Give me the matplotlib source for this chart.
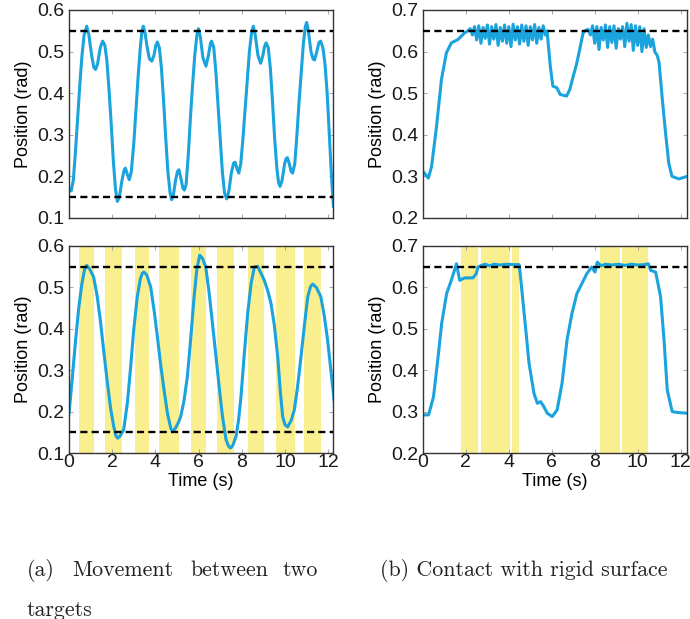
import matplotlib
matplotlib.use("Agg")
import matplotlib.pyplot as plt
import numpy as np

plt.rcParams["font.family"] = ["Liberation Sans", "DejaVu Sans"]

LINE = "#1aa3dd"
BAND = "#f9ef8e"

# (a) top: free movement between two targets
ta_top = [0.0, 0.1, 0.2, 0.3, 0.4, 0.5, 0.6, 0.7, 0.82, 0.92, 1.05, 1.15, 1.23, 1.32, 1.45, 1.56,
          1.66, 1.75, 1.85, 1.95, 2.05, 2.15, 2.24, 2.33, 2.45, 2.55, 2.61, 2.7, 2.79, 2.88, 3.0,
          3.1, 3.2, 3.3, 3.38, 3.44, 3.52, 3.62, 3.72, 3.83, 3.93, 4.02, 4.09, 4.18, 4.28, 4.38,
          4.48, 4.58, 4.68, 4.75, 4.83, 4.93, 5.02, 5.09, 5.18, 5.27, 5.34, 5.42, 5.52, 5.62, 5.72,
          5.82, 5.92, 5.99, 6.08, 6.2, 6.34, 6.45, 6.55, 6.6, 6.7, 6.8, 6.9, 7.0, 7.1, 7.2, 7.3,
          7.4, 7.52, 7.62, 7.69, 7.78, 7.86, 7.95, 8.05, 8.15, 8.25, 8.35, 8.45, 8.53, 8.62, 8.75,
          8.87, 8.97, 9.05, 9.12, 9.22, 9.32, 9.42, 9.52, 9.62, 9.7, 9.77, 9.86, 9.98, 10.05, 10.11,
          10.2, 10.28, 10.35, 10.45, 10.55, 10.65, 10.75, 10.85, 10.94, 11.0, 11.08, 11.2, 11.3,
          11.37, 11.47, 11.57, 11.65, 11.75, 11.85, 11.95, 12.05, 12.15, 12.24]
pa_top = [0.172, 0.165, 0.19, 0.26, 0.34, 0.42, 0.49, 0.54, 0.561, 0.54, 0.49, 0.462, 0.457, 0.47,
          0.51, 0.525, 0.515, 0.48, 0.41, 0.33, 0.24, 0.17, 0.14, 0.15, 0.19, 0.215, 0.22, 0.205,
          0.192, 0.21, 0.28, 0.36, 0.44, 0.51, 0.55, 0.561, 0.545, 0.51, 0.483, 0.477, 0.49, 0.515,
          0.523, 0.51, 0.46, 0.38, 0.29, 0.21, 0.16, 0.144, 0.155, 0.19, 0.212, 0.216, 0.195, 0.172,
          0.167, 0.18, 0.25, 0.34, 0.42, 0.49, 0.54, 0.555, 0.535, 0.485, 0.465, 0.49, 0.52, 0.525,
          0.51, 0.45, 0.37, 0.29, 0.21, 0.16, 0.146, 0.165, 0.21, 0.232, 0.234, 0.218, 0.208, 0.23,
          0.29, 0.36, 0.43, 0.5, 0.545, 0.561, 0.54, 0.49, 0.472, 0.49, 0.512, 0.521, 0.51, 0.46,
          0.38, 0.29, 0.22, 0.185, 0.176, 0.19, 0.23, 0.243, 0.245, 0.23, 0.212, 0.208, 0.23, 0.3,
          0.38, 0.45, 0.52, 0.56, 0.57, 0.55, 0.5, 0.482, 0.48, 0.5, 0.522, 0.525, 0.51, 0.47, 0.4,
          0.3, 0.2, 0.128]

# (a) bottom: assisted movement, yellow = active intervals
ta_bot = [0.0, 0.15, 0.3, 0.45, 0.6, 0.72, 0.82, 0.95, 1.14, 1.3, 1.45, 1.6, 1.76, 1.92, 2.07, 2.17,
          2.25, 2.35, 2.53, 2.7, 2.84, 3.0, 3.16, 3.3, 3.4, 3.47, 3.6, 3.78, 3.95, 4.09, 4.25, 4.4,
          4.56, 4.71, 4.78, 4.9, 5.05, 5.17, 5.32, 5.48, 5.64, 5.79, 5.92, 6.05, 6.18, 6.33, 6.48,
          6.64, 6.8, 6.95, 7.1, 7.27, 7.38, 7.47, 7.58, 7.73, 7.85, 7.96, 8.1, 8.27, 8.43, 8.58,
          8.73, 8.88, 9.04, 9.2, 9.35, 9.5, 9.66, 9.78, 9.89, 10.0, 10.12, 10.28, 10.43, 10.58,
          10.74, 10.9, 11.05, 11.18, 11.28, 11.45, 11.66, 11.82, 11.97, 12.12, 12.28]
pa_bot = [0.195, 0.28, 0.37, 0.45, 0.51, 0.543, 0.553, 0.545, 0.525, 0.48, 0.421, 0.35, 0.277, 0.21,
          0.164, 0.142, 0.136, 0.14, 0.156, 0.22, 0.3, 0.4, 0.477, 0.52, 0.535, 0.537, 0.53, 0.501,
          0.44, 0.381, 0.31, 0.252, 0.195, 0.16, 0.152, 0.158, 0.172, 0.188, 0.225, 0.285, 0.38,
          0.477, 0.545, 0.578, 0.57, 0.549, 0.49, 0.413, 0.335, 0.26, 0.19, 0.132, 0.117, 0.112,
          0.118, 0.14, 0.18, 0.236, 0.33, 0.437, 0.51, 0.549, 0.551, 0.535, 0.517, 0.492, 0.461,
          0.41, 0.333, 0.25, 0.188, 0.168, 0.163, 0.178, 0.204, 0.26, 0.333, 0.41, 0.477, 0.502,
          0.508, 0.5, 0.477, 0.43, 0.373, 0.3, 0.224]
bands_a = [(0.46, 1.16), (1.67, 2.44), (3.06, 3.72), (4.18, 5.09), (5.65, 6.34),
           (6.84, 7.65), (8.30, 9.04), (9.58, 10.46), (10.9, 11.65)]
targets_a = [0.55, 0.15]

# (b) top: contact with a rigid surface
tb_top = [0.0, 0.25, 0.4, 0.63, 0.86, 1.09, 1.32, 1.63, 1.94, 2.1,
          2.2, 2.3, 2.4, 2.5, 2.6, 2.7, 2.8, 2.9, 3.0, 3.1, 3.2, 3.3, 3.4, 3.5, 3.6, 3.7, 3.8,
          3.9, 4.0, 4.1, 4.2, 4.3, 4.4, 4.5, 4.6, 4.7, 4.8, 4.9, 5.0, 5.1, 5.2, 5.3, 5.4, 5.5,
          5.6, 5.7, 5.78, 5.93, 6.05, 6.24, 6.39, 6.69, 6.84, 7.0, 7.15, 7.3, 7.46, 7.6,
          7.7, 7.8, 7.9, 8.0, 8.1, 8.2, 8.3, 8.4, 8.5, 8.6, 8.7, 8.8, 8.9, 9.0, 9.1, 9.2, 9.3,
          9.4, 9.5, 9.6, 9.7, 9.8, 9.9, 10.0, 10.1, 10.2, 10.3, 10.4, 10.5, 10.6, 10.7, 10.8,
          10.92, 11.0, 11.15, 11.3, 11.45, 11.6, 11.92, 12.3]
pb_top = [0.312, 0.296, 0.324, 0.42, 0.533, 0.597, 0.621, 0.629, 0.645, 0.65,
          0.655, 0.64, 0.66, 0.628, 0.662, 0.62, 0.658, 0.632, 0.664, 0.618, 0.66, 0.63, 0.665,
          0.615, 0.658, 0.625, 0.664, 0.62, 0.66, 0.612, 0.666, 0.628, 0.66, 0.618, 0.664, 0.625,
          0.662, 0.615, 0.66, 0.628, 0.665, 0.62, 0.658, 0.63, 0.662, 0.64, 0.65, 0.565, 0.517,
          0.513, 0.497, 0.493, 0.509, 0.541, 0.569, 0.605, 0.645, 0.652,
          0.653, 0.64, 0.662, 0.62, 0.66, 0.605, 0.658, 0.628, 0.664, 0.61, 0.66, 0.622, 0.662,
          0.608, 0.655, 0.63, 0.66, 0.612, 0.668, 0.625, 0.665, 0.603, 0.662, 0.615, 0.66, 0.6,
          0.655, 0.61, 0.64, 0.612, 0.63, 0.6,
          0.59, 0.573, 0.485, 0.405, 0.332, 0.3, 0.294, 0.3]

# (b) bottom: contact with assistance
tb_bot = [0.0, 0.26, 0.49, 0.72, 0.87, 1.1, 1.32, 1.56, 1.71, 1.94, 2.33, 2.48, 2.56, 2.71, 2.9,
          3.1, 3.3, 3.6, 3.9, 4.2, 4.48, 4.56, 4.79, 4.94, 5.17, 5.33, 5.48, 5.63, 5.79, 6.02,
          6.25, 6.48, 6.71, 6.94, 7.17, 7.4, 7.63, 7.86, 8.01, 8.12, 8.3, 8.5, 8.8, 9.1, 9.4,
          9.7, 10.0, 10.3, 10.5, 10.61, 10.84, 11.07, 11.23, 11.38, 11.61, 11.84, 12.3]
pb_bot = [0.292, 0.292, 0.336, 0.44, 0.513, 0.585, 0.617, 0.657, 0.617, 0.623, 0.623, 0.633,
          0.649, 0.653, 0.656, 0.652, 0.656, 0.654, 0.656, 0.655, 0.655, 0.617, 0.497, 0.417,
          0.344, 0.32, 0.324, 0.312, 0.296, 0.288, 0.304, 0.369, 0.473, 0.537, 0.585, 0.609,
          0.633, 0.649, 0.637, 0.661, 0.652, 0.656, 0.654, 0.656, 0.653, 0.656, 0.654, 0.655,
          0.657, 0.641, 0.637, 0.577, 0.473, 0.352, 0.3, 0.298, 0.296]
bands_b = [(1.78, 2.58), (2.68, 4.07), (4.16, 4.47), (8.24, 9.17), (9.27, 10.46)]
targets_b = [0.65]

x_ticks = [0, 2, 4, 6, 8, 10, 12]
y_ticks_a = [0.1, 0.2, 0.3, 0.4, 0.5, 0.6]
y_ticks_b = [0.2, 0.3, 0.4, 0.5, 0.6, 0.7]

W, H = 690, 619
fig = plt.figure(figsize=(W / 100, H / 100), dpi=100)


def box(left, top, right, bottom):
    return [left / W, 1 - bottom / H, (right - left) / W, (bottom - top) / H]


def panel(rect, t, p, targets, yticks, xmax, bands=None, xlabel=False):
    ax = fig.add_axes(rect)
    if bands:
        for a, b in bands:
            ax.axvspan(a, b, color=BAND, lw=0, zorder=0)
    ax.plot(t, p, color=LINE, lw=2.2, zorder=2, solid_joinstyle="round")
    for y in targets:
        ax.axhline(y, color="black", lw=1.7, ls=(0, (3, 1.8)), zorder=3)
    ax.set_xlim(0, xmax)
    ax.set_ylim(yticks[0], yticks[-1])
    ax.set_xticks(x_ticks)
    ax.set_yticks(yticks)
    ax.set_yticklabels([f"{v:.1f}" for v in yticks])
    ax.tick_params(direction="in", length=3, width=0.6, color="#999999", top=True, right=True,
                   labelsize=14, pad=3, labelcolor="#1a1a1a")
    ax.tick_params(axis="x", pad=1)
    if xlabel:
        ax.set_xlabel("Time (s)", fontsize=13, labelpad=1)
    else:
        ax.tick_params(axis="x", labelbottom=False)
    ax.set_ylabel("Position (rad)", fontsize=13, labelpad=4)
    for s in ax.spines.values():
        s.set_linewidth(1.0)
        s.set_color("#333333")
    return ax


panel(box(69, 10, 333, 218), ta_top, pa_top, targets_a, y_ticks_a, 12.22)
panel(box(69, 246, 333, 453), ta_bot, pa_bot, targets_a, y_ticks_a, 12.22, bands_a, xlabel=True)
panel(box(423, 10, 687, 218), tb_top, pb_top, targets_b, y_ticks_b, 12.3)
panel(box(423, 246, 687, 453), tb_bot, pb_bot, targets_b, y_ticks_b, 12.3, bands_b, xlabel=True)

cap = dict(fontfamily="cmr10", fontsize=15.8, va="baseline", ha="left", color="#222222")
for word, x in [("(a)", 27), ("Movement", 72), ("between", 190), ("two", 283)]:
    fig.text(x / W, 1 - 576 / H, word, **cap)
fig.text(27 / W, 1 - 616 / H, "targets", **cap)
fig.text(380 / W, 1 - 576 / H, "(b) Contact with rigid surface", **cap)

fig.savefig("out.png", dpi=100)
